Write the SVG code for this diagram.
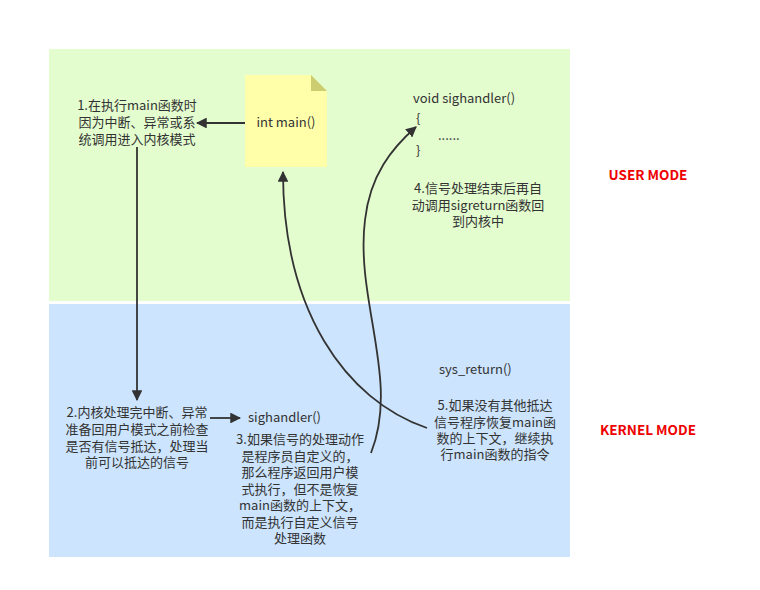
<svg xmlns="http://www.w3.org/2000/svg" width="760" height="590" viewBox="0 0 760 590">
<style>
.t{font-family:"Noto Sans CJK SC","Noto Sans",sans-serif;font-size:13px;fill:#333;}
.c{text-anchor:middle;}
.m{font-family:"Noto Sans CJK SC","Noto Sans",sans-serif;font-size:13.5px;font-weight:bold;fill:#e00;text-anchor:middle;}
.ln{fill:none;stroke:#333;stroke-width:1.8;}
</style>
<defs>
<marker id="ah" viewBox="0 0 10 10" refX="9" refY="5" markerWidth="6" markerHeight="6" markerUnits="strokeWidth" orient="auto">
<path d="M0,0 L10,5 L0,10 Z" fill="#333"/>
</marker>
</defs>
<rect width="760" height="590" fill="#fff"/>
<g id="user-zone"><rect x="49" y="49" width="521" height="252" fill="#e4fdcf"/></g>
<g id="kernel-zone"><rect x="49" y="304" width="521" height="253" fill="#cce4fd"/></g>
<g id="mode-labels">
<text class="m" x="648" y="180">USER MODE</text>
<text class="m" x="648" y="435">KERNEL MODE</text>
</g>
<g id="note-main">
<path d="M245,75 L311,75 L327,91 L327,167 L245,167 Z" fill="#ffffaa"/>
<path d="M311,75 L327,91 L311,91 Z" fill="#cccc70"/>
<text class="t c" x="286" y="127">int main()</text>
</g>
<g id="step1">
<text class="t c" x="137" y="110">1.在执行main函数时</text>
<text class="t c" x="137" y="127">因为中断、异常或系</text>
<text class="t c" x="137" y="144">统调用进入内核模式</text>
</g>
<g id="sighandler-user">
<text class="t" x="413" y="103">void sighandler()</text>
<text class="t" x="416" y="123">{</text>
<text class="t" x="438" y="140">......</text>
<text class="t" x="416" y="155">}</text>
</g>
<g id="step4">
<text class="t c" x="478" y="193">4.信号处理结束后再自</text>
<text class="t c" x="478" y="210">动调用sigreturn函数回</text>
<text class="t c" x="478" y="226">到内核中</text>
</g>
<g id="step2">
<text class="t c" x="137" y="417">2.内核处理完中断、异常</text>
<text class="t c" x="137" y="434">准备回用户模式之前检查</text>
<text class="t c" x="137" y="451">是否有信号抵达，处理当</text>
<text class="t c" x="137" y="467">前可以抵达的信号</text>
</g>
<g id="sighandler-kernel">
<text class="t" x="248" y="422">sighandler()</text>
</g>
<g id="step3">
<text class="t c" x="300" y="444">3.如果信号的处理动作</text>
<text class="t c" x="300" y="461">是程序员自定义的，</text>
<text class="t c" x="300" y="477">那么程序返回用户模</text>
<text class="t c" x="300" y="494">式执行，但不是恢复</text>
<text class="t c" x="300" y="510">main函数的上下文，</text>
<text class="t c" x="300" y="527">而是执行自定义信号</text>
<text class="t c" x="300" y="543">处理函数</text>
</g>
<g id="sys-return">
<text class="t" x="439" y="374">sys_return()</text>
</g>
<g id="step5">
<text class="t c" x="495" y="410">5.如果没有其他抵达</text>
<text class="t c" x="495" y="427">信号程序恢复main函</text>
<text class="t c" x="495" y="443">数的上下文，继续执</text>
<text class="t c" x="495" y="459">行main函数的指令</text>
</g>
<g id="connectors">
<path class="ln" d="M245,123 L197,123" marker-end="url(#ah)"/>
<path class="ln" d="M137,147 L137,400" marker-end="url(#ah)"/>
<path class="ln" d="M210,418 L240,418" marker-end="url(#ah)"/>
<path class="ln" d="M427,428 C345,400 283,310 283,172" marker-end="url(#ah)"/>
<path class="ln" d="M371,453 C400,380 355,300 365,220 C370,175 392,148 416,127" marker-end="url(#ah)"/>
</g>
</svg>
